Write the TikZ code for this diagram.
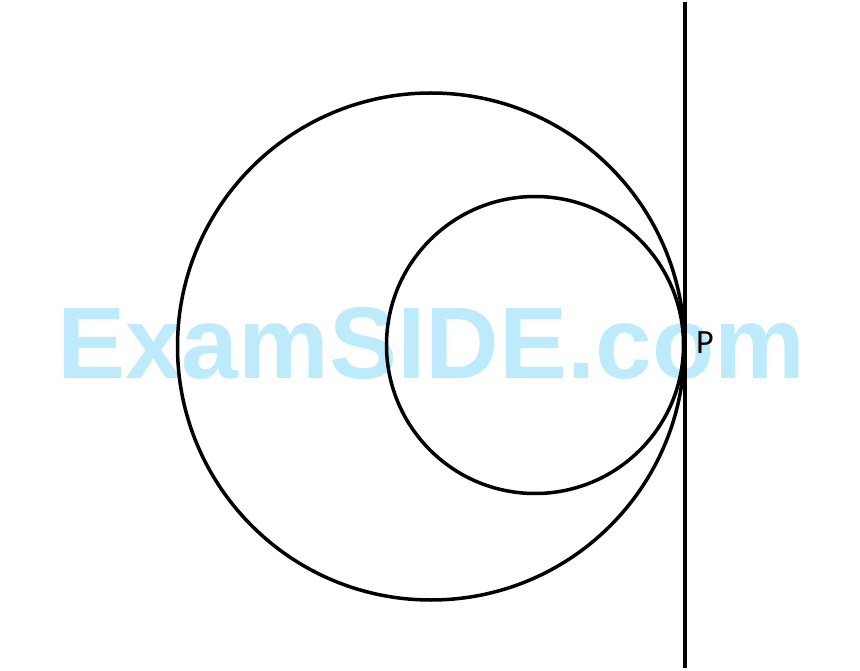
\documentclass[tikz,border=0pt]{standalone}
\usepackage{fontspec}
\setmainfont{Liberation Sans}
\newfontfamily\labelfont{Carlito}
\definecolor{wm}{RGB}{190,235,251}
\begin{document}
\begin{tikzpicture}[x=1pt,y=-1pt,
  curve/.style={line width=3.5pt,black},
  wmark/.style={text=wm,font=\fontsize{102}{102}\selectfont\bfseries,inner sep=0pt,anchor=base west},
  plabel/.style={font=\labelfont\fontsize{34}{34}\selectfont,inner sep=0pt}]
\useasboundingbox (0,0) rectangle (860,671);
\node[wmark] (wm) at (57,378) {ExamSIDE.com};
\coordinate (O1) at (431,346.5);
\coordinate (O2) at (535,345);
\draw[curve] (O1) circle[radius=253.5];
\draw[curve] (O2) circle[radius=148.5];
\coordinate (T) at (685,2);
\coordinate (B) at (685,668);
\draw[curve] (T) -- (B);
\node[plabel] (P) at (705,343) {P};
\end{tikzpicture}
\end{document}
